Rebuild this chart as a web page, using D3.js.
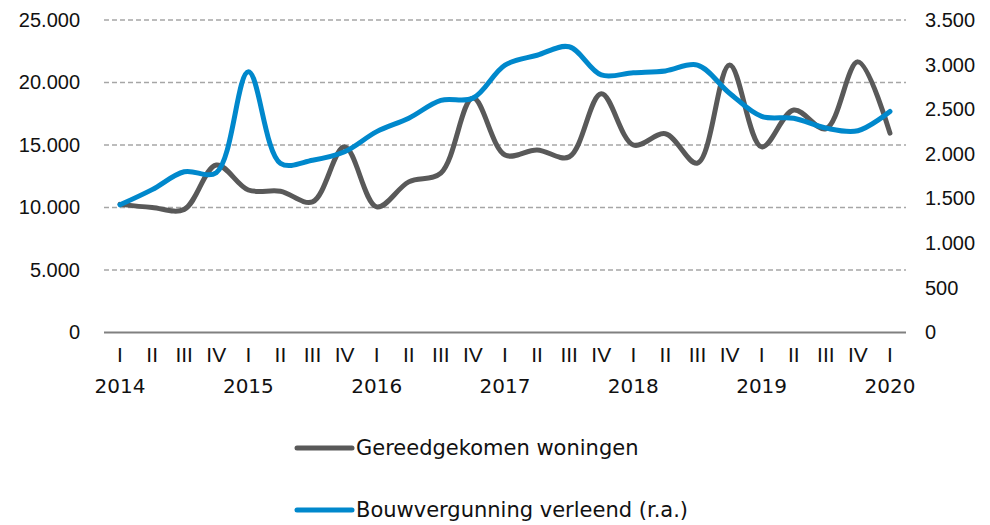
<!DOCTYPE html>
<html>
<head>
<meta charset="utf-8">
<script src="https://cdn.jsdelivr.net/npm/d3@7"></script>
<style>
  html, body { margin: 0; padding: 0; background: #fff; }
  svg { display: block; font-family: "DejaVu Sans", Verdana, sans-serif; }
</style>
</head>
<body>
<div id="chart"></div>
<script>
/* ---------- data ---------- */
const quarters = ['I', 'II', 'III', 'IV'];
const years = ['2014', '2015', '2016', '2017', '2018', '2019', '2020'];

// Gereedgekomen woningen (left axis)
const gereed = [10250, 10000, 9850, 13400, 11400, 11300, 10450, 14850, 10050, 12050,
  12750, 18750, 14200, 14600, 14050, 19100, 15000, 15900, 13550, 21400,
  14850, 17800, 16300, 21650, 15950];

// Bouwvergunning verleend (right axis)
const vergunning = [1430, 1600, 1800, 1790, 2920, 1895, 1930, 2025, 2250, 2400,
  2600, 2625, 2995, 3105, 3200, 2885, 2910, 2930, 2995, 2680,
  2420, 2400, 2290, 2260, 2475];

const leftTicks = [0, 5000, 10000, 15000, 20000, 25000];
const rightTicks = [0, 500, 1000, 1500, 2000, 2500, 3000, 3500];

const seriesNames = ['Gereedgekomen woningen', 'Bouwvergunning verleend (r.a.)'];
const colors = ['#595959', '#0088cc'];

// category keys: 2014-I ... 2020-I
const cats = gereed.map((_, i) => i);
const catQuarter = i => quarters[i % 4];
const catYear = i => (i % 4 === 0 ? years[i / 4] : '');

/* ---------- layout ---------- */
const W = 990, H = 525;
const plot = { left: 104, right: 906, top: 20, bottom: 332.5 };
const fmt = v => d3.format(',')(v).replace(/,/g, '.');

const svg = d3.select('#chart').append('svg')
  .attr('width', W).attr('height', H)
  .attr('viewBox', `0 0 ${W} ${H}`);

const x = d3.scaleBand().domain(cats).range([plot.left, plot.right]);
const xc = i => x(i) + x.bandwidth() / 2;
const yL = d3.scaleLinear().domain([0, 25000]).range([plot.bottom, plot.top]);
const yR = d3.scaleLinear().domain([0, 3500]).range([plot.bottom, plot.top]);

// gridlines
svg.append('g')
  .selectAll('line')
  .data(leftTicks.filter(d => d > 0))
  .join('line')
  .attr('x1', plot.left).attr('x2', plot.right)
  .attr('y1', d => yL(d)).attr('y2', d => yL(d))
  .attr('stroke', '#a6a6a6')
  .attr('stroke-width', 1.5)
  .attr('stroke-dasharray', '5,3');

// zero line
svg.append('line')
  .attr('x1', plot.left).attr('x2', plot.right)
  .attr('y1', yL(0)).attr('y2', yL(0))
  .attr('stroke', '#808080')
  .attr('stroke-width', 2);

// left axis labels
const axisL = svg.append('g')
  .attr('transform', `translate(${plot.left},0)`)
  .call(d3.axisLeft(yL).tickValues(leftTicks).tickFormat(fmt).tickSize(0).tickPadding(24));
axisL.select('.domain').remove();
axisL.selectAll('text').attr('font-size', 20).attr('fill', '#111').attr('font-family', null);

// right axis labels
const axisR = svg.append('g')
  .attr('transform', `translate(${plot.right},0)`)
  .call(d3.axisRight(yR).tickValues(rightTicks).tickFormat(fmt).tickSize(0).tickPadding(19));
axisR.select('.domain').remove();
axisR.selectAll('text').attr('font-size', 20).attr('fill', '#111').attr('font-family', null);

// x axis: quarter + year labels
const axisX = svg.append('g')
  .attr('transform', `translate(0,${plot.bottom})`)
  .call(d3.axisBottom(x).tickFormat(catQuarter).tickSize(0).tickPadding(15));
axisX.select('.domain').remove();
axisX.selectAll('text').attr('font-size', 21).attr('fill', '#111').attr('font-family', null);

svg.append('g')
  .selectAll('text')
  .data(cats.filter(i => catYear(i)))
  .join('text')
  .attr('x', xc)
  .attr('y', plot.bottom + 60)
  .attr('text-anchor', 'middle')
  .attr('font-size', 20)
  .attr('fill', '#111')
  .text(catYear);

// lines
const curve = d3.curveCatmullRom.alpha(0.5);
const lineL = d3.line().x((d, i) => xc(i)).y(d => yL(d)).curve(curve);
const lineR = d3.line().x((d, i) => xc(i)).y(d => yR(d)).curve(curve);

svg.append('path')
  .attr('d', lineL(gereed))
  .attr('fill', 'none')
  .attr('stroke', colors[0])
  .attr('stroke-width', 5)
  .attr('stroke-linecap', 'round')
  .attr('stroke-linejoin', 'round');

svg.append('path')
  .attr('d', lineR(vergunning))
  .attr('fill', 'none')
  .attr('stroke', colors[1])
  .attr('stroke-width', 5)
  .attr('stroke-linecap', 'round')
  .attr('stroke-linejoin', 'round');

// legend
const legend = svg.append('g')
  .selectAll('g')
  .data(seriesNames)
  .join('g')
  .attr('transform', (d, i) => `translate(297,${448 + i * 62})`);

legend.append('line')
  .attr('x1', 0).attr('x2', 55)
  .attr('stroke', (d, i) => colors[i])
  .attr('stroke-width', 5)
  .attr('stroke-linecap', 'round');

legend.append('text')
  .attr('x', 59)
  .attr('dy', '0.35em')
  .attr('font-size', 21)
  .attr('fill', '#111')
  .text(d => d);
</script>
</body>
</html>
